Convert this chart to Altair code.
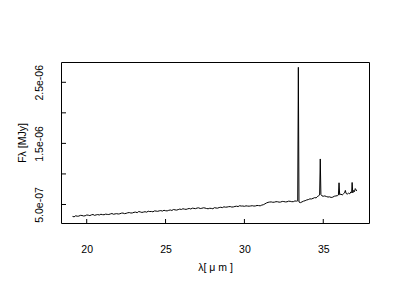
import altair as alt
import pandas as pd

# wavelength (micron) and flux (units of 1e-7 MJy)
wavelength = [
    19.1, 19.2, 19.3, 19.4, 19.5, 19.6, 19.7, 19.8, 19.9, 20.0,
    20.1, 20.2, 20.3, 20.4, 20.5, 20.6, 20.7, 20.8, 20.9, 21.0,
    21.1, 21.2, 21.3, 21.4, 21.5, 21.6, 21.7, 21.8, 21.9, 22.0,
    22.1, 22.2, 22.3, 22.4, 22.5, 22.6, 22.7, 22.8, 22.9, 23.0,
    23.1, 23.2, 23.3, 23.4, 23.5, 23.6, 23.7, 23.8, 23.9, 24.0,
    24.1, 24.2, 24.3, 24.4, 24.5, 24.6, 24.7, 24.8, 24.9, 25.0,
    25.1, 25.2, 25.3, 25.4, 25.5, 25.6, 25.7, 25.8, 25.9, 26.0,
    26.1, 26.2, 26.3, 26.4, 26.5, 26.6, 26.7, 26.8, 26.9, 27.0,
    27.1, 27.2, 27.3, 27.4, 27.5, 27.6, 27.7, 27.8, 27.9, 28.0,
    28.1, 28.2, 28.3, 28.4, 28.5, 28.6, 28.7, 28.8, 28.9, 29.0,
    29.1, 29.2, 29.3, 29.4, 29.5, 29.6, 29.7, 29.8, 29.9, 30.0,
    30.1, 30.2, 30.3, 30.4, 30.5, 30.6, 30.7, 30.8, 30.9, 31.0,
    31.1, 31.2, 31.3, 31.4, 31.5, 31.6, 31.7, 31.8, 31.9, 32.0,
    32.1, 32.2, 32.3, 32.4, 32.5, 32.6, 32.7, 32.8, 32.9, 33.0,
    33.1, 33.2, 33.3, 33.38, 33.42, 33.46, 33.55, 33.65, 33.75, 33.85,
    33.95, 34.05, 34.15, 34.25, 34.35, 34.45, 34.55, 34.65, 34.72, 34.77,
    34.81, 34.85, 34.92, 35.0, 35.1, 35.2, 35.3, 35.4, 35.5, 35.6,
    35.7, 35.8, 35.9, 35.96, 36.0, 36.04, 36.12, 36.2, 36.28, 36.35,
    36.4, 36.45, 36.52, 36.6, 36.68, 36.75, 36.8, 36.83, 36.87, 36.93,
    36.98, 37.03, 37.08, 37.12,
]
flux_e7 = [
    3.05, 2.98, 3.15, 3.08, 3.10, 3.22, 3.20, 3.12, 3.15, 3.28,
    3.25, 3.18, 3.30, 3.36, 3.22, 3.30, 3.35, 3.28, 3.40, 3.34,
    3.32, 3.42, 3.38, 3.36, 3.45, 3.52, 3.40, 3.46, 3.50, 3.44,
    3.48, 3.58, 3.60, 3.50, 3.55, 3.64, 3.68, 3.60, 3.62, 3.72,
    3.75, 3.66, 3.85, 3.78, 3.70, 3.76, 3.82, 3.74, 3.90, 3.84,
    3.86, 3.80, 3.95, 3.92, 3.88, 3.96, 4.00, 3.92, 4.05, 3.98,
    3.95, 4.04, 4.10, 4.02, 4.18, 4.12, 4.08, 4.16, 4.25, 4.18,
    4.30, 4.24, 4.20, 4.28, 4.35, 4.26, 4.40, 4.36, 4.32, 4.42,
    4.45, 4.34, 4.38, 4.46, 4.42, 4.34, 4.30, 4.38, 4.36, 4.30,
    4.48, 4.42, 4.40, 4.50, 4.55, 4.48, 4.62, 4.56, 4.58, 4.64,
    4.66, 4.58, 4.60, 4.68, 4.72, 4.66, 4.80, 4.74, 4.75, 4.70,
    4.78, 4.74, 4.72, 4.76, 4.80, 4.74, 4.76, 4.84, 4.82, 4.78,
    4.90, 4.96, 5.10, 5.25, 5.35, 5.40, 5.42, 5.36, 5.38, 5.46,
    5.45, 5.38, 5.40, 5.50, 5.48, 5.42, 5.44, 5.54, 5.52, 5.46,
    5.46, 5.58, 5.55, 5.60, 27.45, 5.40, 5.30, 5.42, 5.55, 5.62,
    5.74, 5.80, 5.92, 5.90, 6.00, 6.12, 6.08, 6.35, 6.45, 6.55,
    12.45, 6.65, 6.40, 6.35, 6.40, 6.30, 6.22, 6.25, 6.15, 6.20,
    6.35, 6.40, 6.45, 6.55, 8.55, 6.60, 6.70, 6.55, 6.75, 6.90,
    7.30, 6.80, 6.70, 6.85, 6.75, 7.05, 6.95, 8.60, 6.90, 7.30,
    7.10, 7.60, 7.40, 7.20,
]
x_ticks = [20, 25, 30, 35]
y_ticks = [5e-7, 1e-6, 1.5e-6, 2e-6, 2.5e-6]

df = pd.DataFrame({"wl": wavelength, "flux": [v * 1e-7 for v in flux_e7]})
dfx = pd.DataFrame({"v": x_ticks})
dfy = pd.DataFrame({"v": y_ticks})

W, H = 308, 161
FONT = "Liberation Sans"

xscale = alt.Scale(domain=[18.37, 37.9], nice=False, zero=False)
yscale = alt.Scale(domain=[1.97e-7, 2.832e-6], nice=False, zero=False)

xaxis = alt.Axis(
    title="λ[ μ m ]", values=x_ticks, ticks=False, domain=False, grid=False,
    labelPadding=21, labelFontSize=10.5, labelFont=FONT, labelColor="#000",
    titleFontSize=10.5, titleFont=FONT, titleFontWeight="normal", titleColor="#000",
    titlePadding=8,
)
ylabel_expr = ("(abs(datum.value-1e-6)<1e-9 || abs(datum.value-2e-6)<1e-9) ? '' : "
               "replace(format(datum.value,'.1e'),'e-','e-0')")
yaxis = alt.Axis(
    title="Fλ [MJy]", values=y_ticks, ticks=False, domain=False, grid=False,
    labelExpr=ylabel_expr, labelAngle=270, labelAlign="center", labelBaseline="bottom",
    labelPadding=17, labelFontSize=10.5, labelFont=FONT, labelColor="#000",
    titleFontSize=10.5, titleFont=FONT, titleFontWeight="normal", titleColor="#000",
    titlePadding=7,
)

line = alt.Chart(df).mark_line(color="#000", strokeWidth=1).encode(
    x=alt.X("wl:Q", scale=xscale, axis=xaxis),
    y=alt.Y("flux:Q", scale=yscale, axis=yaxis),
)

xt = alt.Chart(dfx).mark_rule(color="#000", strokeWidth=1).encode(
    x=alt.X("v:Q", scale=xscale),
    y=alt.value(H),
    y2=alt.value(H - 4),
)
yt = alt.Chart(dfy).mark_rule(color="#000", strokeWidth=1).encode(
    y=alt.Y("v:Q", scale=yscale),
    x=alt.value(0),
    x2=alt.value(5),
)

chart = alt.layer(line, xt, yt).properties(
    width=W, height=H,
    autosize=alt.AutoSizeParams(type="none"),
    padding={"left": 61, "top": 62, "right": 31, "bottom": 77},
    background="white",
).configure_view(stroke="#000", strokeWidth=1)

chart.save("out.html", embed_options={"renderer": "svg", "actions": False})
